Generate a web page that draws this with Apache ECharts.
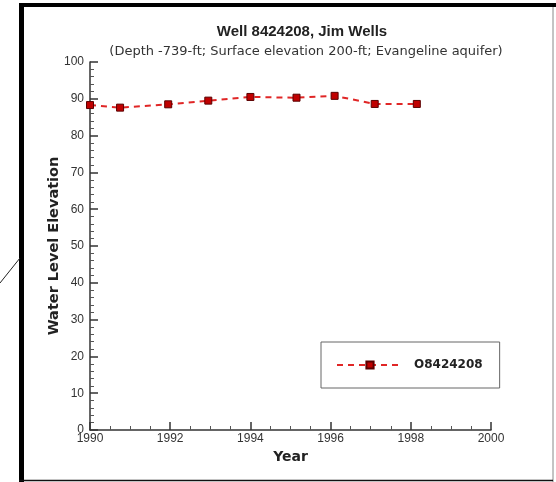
<!DOCTYPE html>
<html>
<head>
<meta charset="utf-8">
<script src="https://cdn.jsdelivr.net/npm/echarts@6/dist/echarts.min.js"></script>
<style>
  html, body { margin: 0; padding: 0; background: #fff; }
  #chart { width: 556px; height: 482px; }
</style>
</head>
<body>
<div id="chart"></div>
<script>
// Measured water levels for well 8424208 (decimal year, elevation in ft)
const years = [1990.0, 1990.75, 1991.95, 1992.95, 1994.0, 1995.15, 1996.1, 1997.1, 1998.15];
const levels = [88.3, 87.6, 88.5, 89.5, 90.5, 90.3, 90.8, 88.6, 88.6];
const seriesName = 'O8424208';
const titleText = 'Well 8424208, Jim Wells';
const subtitleText = '(Depth -739-ft; Surface elevation 200-ft; Evangeline aquifer)';

const FONT = '"Liberation Sans", Arial, sans-serif';
const WIDE = '"DejaVu Sans", sans-serif';
const chart = echarts.init(document.getElementById('chart'), null, { renderer: 'canvas' });

chart.setOption({
  backgroundColor: '#fff',
  animation: false,
  textStyle: { fontFamily: FONT },
  title: [
    {
      text: titleText, left: 297, top: 19, textAlign: 'center',
      textStyle: { fontFamily: FONT, fontSize: 15, fontWeight: 'bold', color: '#222' }
    },
    {
      text: subtitleText, left: 301, top: 40, textAlign: 'center',
      textStyle: { fontFamily: WIDE, fontSize: 13, fontWeight: 'normal', color: '#333' }
    }
  ],
  grid: { left: 90, top: 62, right: 65, bottom: 52, containLabel: false },
  xAxis: {
    type: 'value', min: 1990, max: 2000, interval: 2,
    name: 'Year', nameLocation: 'middle', nameGap: 18,
    nameTextStyle: { fontFamily: WIDE, fontSize: 14, fontWeight: 'bold', color: '#222' },
    axisLine: { show: true, lineStyle: { color: '#333', width: 1.5 } },
    axisTick: { show: true, inside: true, length: 8, lineStyle: { color: '#333', width: 1.5 } },
    minorTick: { show: true, splitNumber: 4, length: 4, lineStyle: { color: '#555' } },
    axisLabel: { fontFamily: FONT, fontSize: 12, color: '#333', margin: 3, formatter: v => String(v) },
    splitLine: { show: false }
  },
  yAxis: {
    type: 'value', min: 0, max: 100, interval: 10,
    name: 'Water Level Elevation', nameLocation: 'middle', nameGap: 28,
    nameMoveOverlap: false,
    nameTextStyle: { fontFamily: WIDE, fontSize: 14.5, fontWeight: 'bold', color: '#222' },
    axisLine: { show: true, lineStyle: { color: '#333', width: 1.5 } },
    axisTick: { show: true, inside: true, length: 8, lineStyle: { color: '#333', width: 1.5 } },
    minorTick: { show: true, splitNumber: 5, length: 4, lineStyle: { color: '#555' } },
    axisLabel: { fontFamily: FONT, fontSize: 12, color: '#333', margin: 6 },
    splitLine: { show: false }
  },
  legend: {
    left: 321, top: 342,
    padding: [17, 17, 17, 15],
    borderColor: '#666', borderWidth: 1,
    itemWidth: 66, itemHeight: 9,
    textStyle: { fontFamily: WIDE, fontSize: 12, fontWeight: 'bold', color: '#222', padding: [0, 0, 0, 6] },
    data: [seriesName]
  },
  series: [{
    name: seriesName,
    type: 'line',
    data: years.map((y, i) => [y, levels[i]]),
    symbol: 'rect', symbolSize: 7,
    lineStyle: { color: '#e02626', width: 2, type: [6, 5] },
    itemStyle: { color: '#c00000', borderColor: '#5a0000', borderWidth: 1 },
    z: 3
  }],
  graphic: [
    // outer frame
    { type: 'rect', shape: { x: 19, y: 3, width: 5, height: 479 }, style: { fill: '#000' }, silent: true },
    { type: 'rect', shape: { x: 19, y: 3, width: 537, height: 4 }, style: { fill: '#000' }, silent: true },
    { type: 'line', shape: { x1: 553, y1: 7, x2: 553, y2: 482 }, style: { stroke: '#888', lineWidth: 1 }, silent: true },
    { type: 'line', shape: { x1: 19, y1: 480.5, x2: 553, y2: 480.5 }, style: { stroke: '#111', lineWidth: 1.5 }, silent: true },
    // leader line at the left edge
    { type: 'line', shape: { x1: 0, y1: 283, x2: 20, y2: 258 }, style: { stroke: '#222', lineWidth: 1 }, silent: true }
  ]
});
</script>
</body>
</html>
